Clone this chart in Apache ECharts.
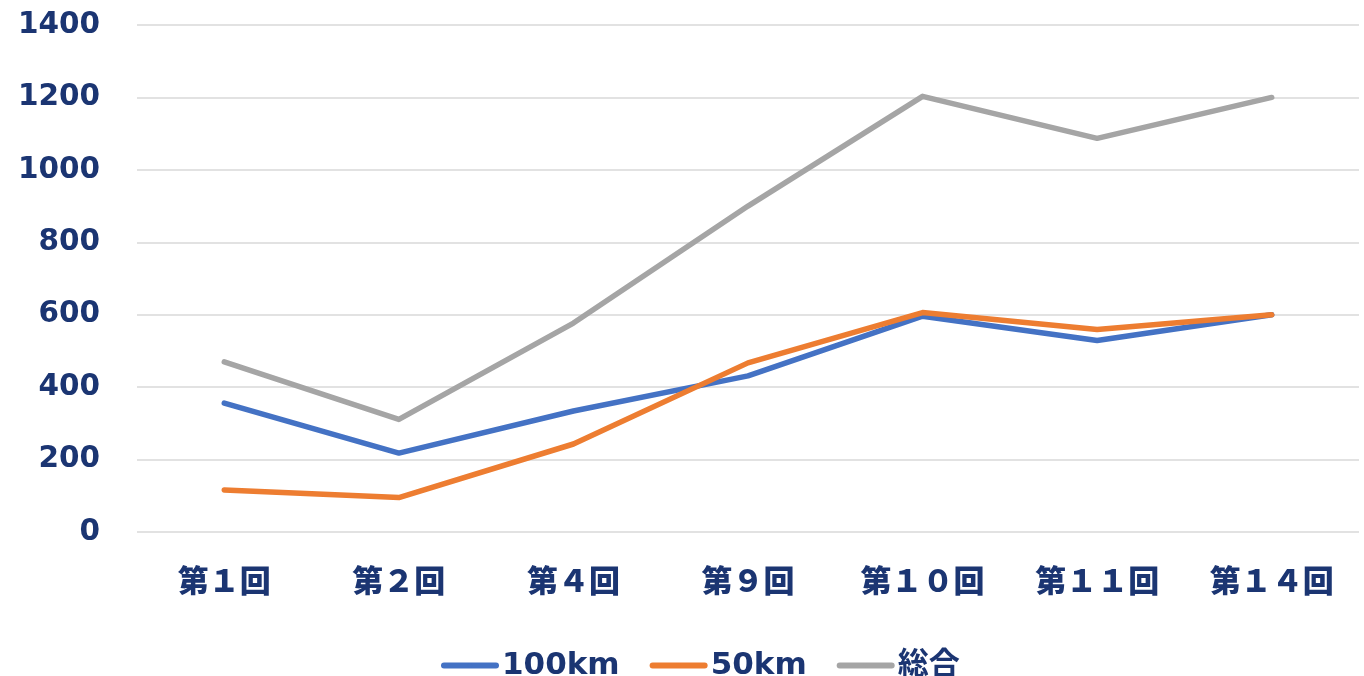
<!DOCTYPE html>
<html><head><meta charset="utf-8">
<script src="https://cdn.jsdelivr.net/npm/echarts@6/dist/echarts.min.js"></script>
<style>html,body{margin:0;padding:0;background:#fff}#c{width:1364px;height:676px}</style>
</head><body><div id="c"></div>
<script>
const categories = ['第１回','第２回','第４回','第９回','第１０回','第１１回','第１４回'];
const s100km = [356, 218, 334, 431, 596, 529, 600];
const s50km = [116, 95, 243, 467, 606, 559, 600];
const sTotal = [470, 311, 577, 900, 1203, 1087, 1200];
const seriesNames = ['100km','50km','総合'];
const colors = ['#4472C4','#ED7D31','#A5A5A5'];
const textColor = '#1B3572';
const font = '"DejaVu Sans","Noto Sans CJK JP",sans-serif';

const chart = echarts.init(document.getElementById('c'), null, {renderer:'canvas'});
const mk = (name, data, i) => ({
  name, type:'line', data, symbol:'none', smooth:false,
  lineStyle:{width:5.5, color:colors[i], cap:'round', join:'round'},
  itemStyle:{color:colors[i]}, z: 2 + (i===1?1:0)
});
chart.setOption({
  animation:false,
  color: colors,
  grid:{left:137, right:5, top:25, bottom:144, containLabel:false},
  legend:{
    data: seriesNames, top: 645, left: 436,
    itemWidth:52, itemHeight:6, itemGap:30,
    lineStyle:{width:6, cap:'round'},
    textStyle:{color:textColor, fontSize:31, fontWeight:'bold', fontFamily:font, padding:[0,0,0,1]}
  },
  xAxis:{
    type:'category', data:categories, boundaryGap:true,
    axisLine:{show:false}, axisTick:{show:false},
    axisLabel:{color:textColor, fontSize:31, fontWeight:900, fontFamily:font, margin:36}
  },
  yAxis:{
    type:'value', min:0, max:1400, interval:200,
    axisLine:{show:false}, axisTick:{show:false},
    splitLine:{lineStyle:{color:'#D9D9D9', width:1.5}},
    axisLabel:{color:textColor, fontSize:29.5, fontWeight:'bold', fontFamily:font, margin:37,
      formatter: v => String(v)}
  },
  series:[mk('100km', s100km, 0), mk('50km', s50km, 1), mk('総合', sTotal, 2)]
});
</script></body></html>
